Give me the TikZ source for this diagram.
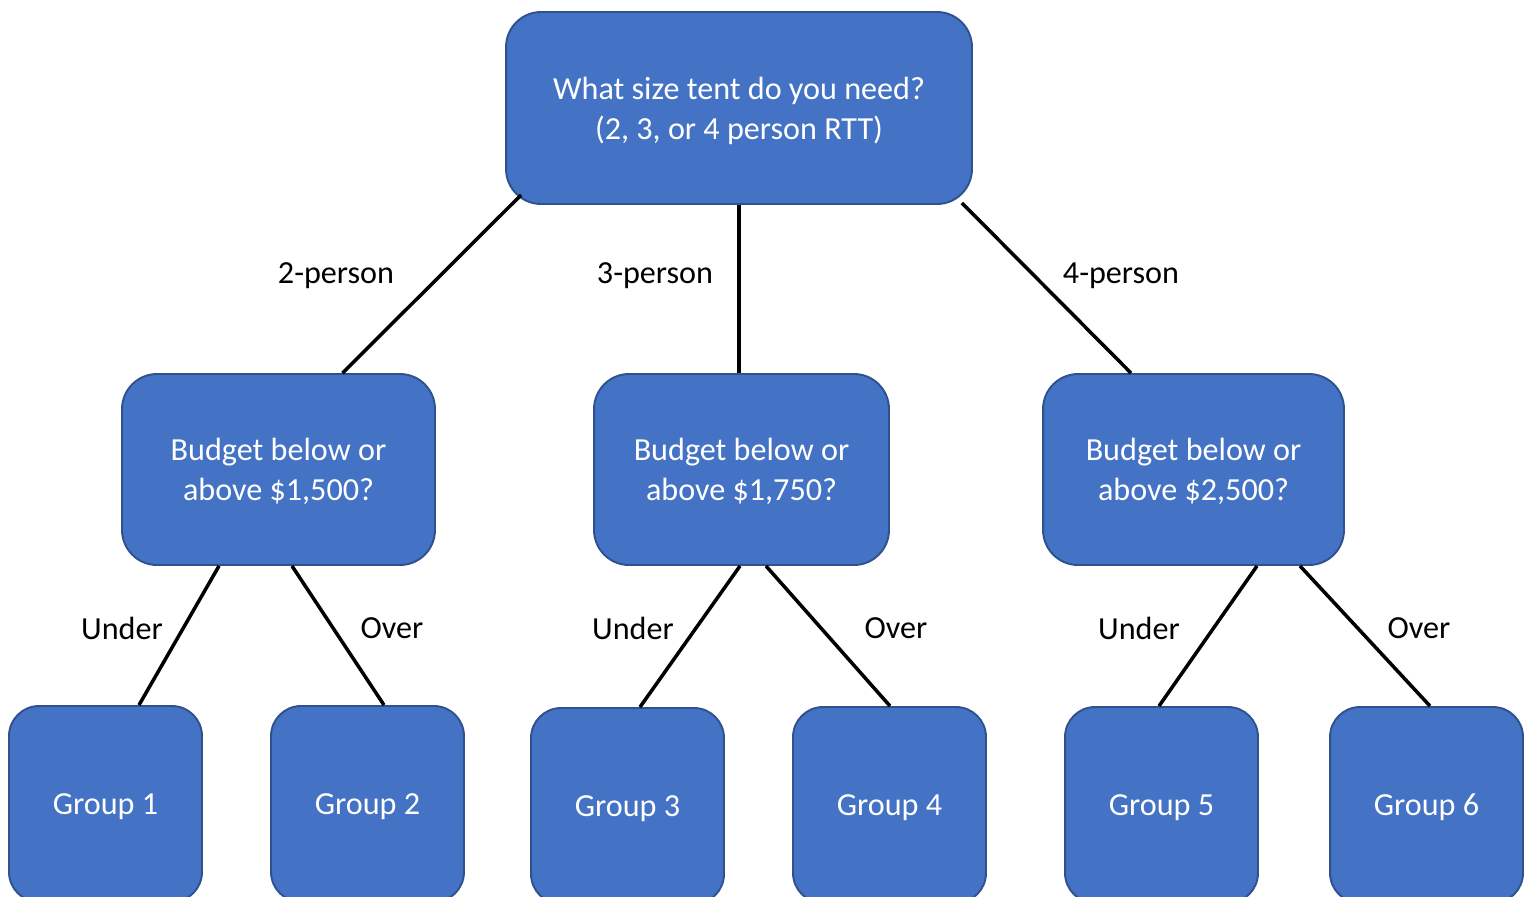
\documentclass[tikz,border=0pt]{standalone}
\usepackage{fontspec}
\setmainfont{Carlito}
\usepackage{xcolor}
\usetikzlibrary{calc}
\definecolor{boxfill}{HTML}{4472C4}
\definecolor{boxline}{HTML}{2F528F}
\tikzset{
	qbox/.style={rectangle, rounded corners=7mm, fill=boxfill, draw=boxline, line width=1.1pt, text=white, align=center, text depth=0pt, font=\fontsize{18.3}{22.7}\selectfont},
	gbox/.style={qbox, rounded corners=6mm, minimum width=38.6mm, minimum height=39.2mm},
	edgelabel/.style={font=\fontsize{18.3}{22}\selectfont, text=black},
	link/.style={line width=2pt, black}
}
\begin{document}
\begin{tikzpicture}[x=0.02cm, y=-0.02cm]
		\useasboundingbox (0,0) rectangle (1530,896);
		\clip (0,0) rectangle (1530,896);
		%elements
		\node at (739,108) (tent) [qbox, minimum width=93.2mm, minimum height=38.4mm] {What size tent do you need?\\(2, 3, or 4 person RTT)};

		\node at (278.5,469.5) (budgeta) [qbox, minimum width=62.6mm, minimum height=38.2mm] {Budget below or\\above \$1,500?};

		\node at (741.5,469.5) (budgetb) [qbox, minimum width=59mm, minimum height=38.2mm] {Budget below or\\above \$1,750?};

		\node at (1193.5,469.5) (budgetc) [qbox, minimum width=60.2mm, minimum height=38.2mm] {Budget below or\\above \$2,500?};

		\node at (105.5,804) (groupa) [gbox] {Group 1};
		\node at (367.5,804) (groupb) [gbox] {Group 2};
		\node at (627.5,806) (groupc) [gbox] {Group 3};
		\node at (889.5,805) (groupd) [gbox] {Group 4};
		\node at (1161.5,805) (groupe) [gbox] {Group 5};
		\node at (1426.5,805) (groupf) [gbox] {Group 6};

		%links
		\draw [link] ($(tent.south west)+(16,-10)$) -- ($(budgeta.north)+(64,0)$);
		\draw [link] (tent.south) -- (tent.south |- budgetb.north);
		\draw [link] ($(tent.south east)+(-11,-2)$) -- ($(budgetc.north)+(-62.5,0)$);

		\draw [link] ($(budgeta.south)+(-59.5,0)$) -- ($(groupa.north)+(33.5,0)$);
		\draw [link] ($(budgeta.south)+(13.5,0)$) -- ($(groupb.north)+(16.5,0)$);
		\draw [link] ($(budgetb.south)+(-1.5,0)$) -- ($(groupc.north)+(12.5,0)$);
		\draw [link] ($(budgetb.south)+(24.5,0)$) -- ($(groupd.north)+(0.5,0)$);
		\draw [link] ($(budgetc.south)+(63.5,0)$) -- ($(groupe.north)+(-2.5,0)$);
		\draw [link] ($(budgetc.south)+(106.5,0)$) -- ($(groupf.north)+(3.5,0)$);

		%text
		\node [edgelabel] at (336,276) (lbltwo) {2-person};
		\node [edgelabel] at (655,276) (lblthree) {3-person};
		\node [edgelabel] at (1121,276) (lblfour) {4-person};
		\node [edgelabel] at (122,628) (lblunda) {Under};
		\node [edgelabel] at (392,628) (lblovera) {Over};
		\node [edgelabel] at (633,628) (lblundb) {Under};
		\node [edgelabel] at (896,628) (lbloverb) {Over};
		\node [edgelabel] at (1139,628) (lblundc) {Under};
		\node [edgelabel] at (1419,628) (lbloverc) {Over};
		\end{tikzpicture}
\end{document}
